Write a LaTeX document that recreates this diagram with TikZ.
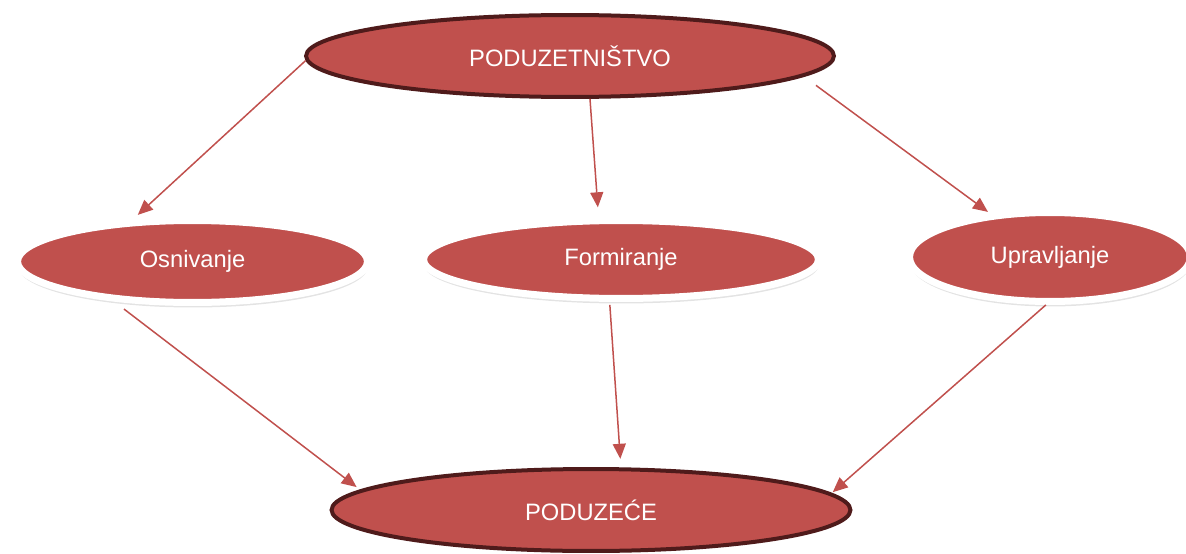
\documentclass[tikz,border=0pt]{standalone}
\usepackage{fontspec}
\setmainfont{Liberation Sans}
\usepackage{tikz}
\usetikzlibrary{shapes, arrows.meta, shadows, positioning}
\definecolor{redFill}{HTML}{C0504D}
\definecolor{darkRim}{HTML}{4F1B1B}
\tikzstyle{mainEllipse}=[ellipse, draw=darkRim, line width=0.08cm, fill=redFill, inner sep=0pt, text=white, font=\fontsize{13.5}{16}\selectfont]
\tikzstyle{phaseEllipse}=[ellipse, draw=white, line width=0.14cm, fill=redFill, inner sep=0pt, text=white, font=\fontsize{13.5}{16}\selectfont, drop shadow={opacity=0.22, shadow xshift=0.01cm, shadow yshift=-0.1cm}]
\tikzstyle{flow}=[draw=redFill, line width=0.03cm, -{Triangle[length=0.3cm, width=0.26cm]}]

\begin{document}
\begin{tikzpicture}[x=0.02cm, y=-0.02cm]
    \useasboundingbox (0, 0) rectangle (1186, 554);

    \node (pod)[mainEllipse, minimum width=10.56cm, minimum height=1.64cm] at (570, 56) {PODUZETNIŠTVO};

    \node (osn)[phaseEllipse, minimum width=7.0cm, minimum height=1.64cm] at (192.5, 261.5) {Osnivanje};
    \node (form)[phaseEllipse, minimum width=7.9cm, minimum height=1.56cm] at (621, 259.5) {Formiranje};
    \node (upr)[phaseEllipse, minimum width=5.62cm, minimum height=1.78cm] at (1050, 257) {Upravljanje};

    \node (firma)[mainEllipse, minimum width=10.38cm, minimum height=1.64cm] at (591, 510) {PODUZEĆE};

    \draw[flow] (pod.181) -- (osn.145) [shorten >=0.14cm];
    \draw[flow, shorten >=0.2cm] (pod.295) -- (form.118);
    \draw[flow, shorten <=0.3cm, shorten >=0.05cm] (pod.355) -- (upr.144);

    \draw[flow, shorten <=0.25cm, shorten >=0.09cm] (osn.207) -- (firma.175);
    \draw[flow, shorten <=0.06cm, shorten >=0.17cm] (form.255) -- (firma.55);
    \draw[flow, shorten >=0.03cm] (upr.265) -- (firma.4);

\end{tikzpicture}
\end{document}
